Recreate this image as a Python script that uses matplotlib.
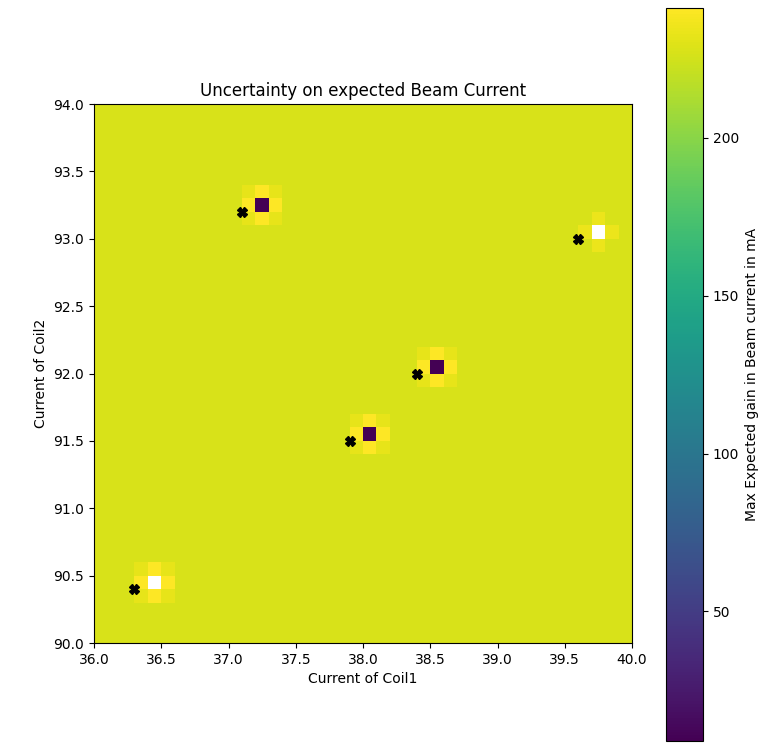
import numpy as np
import matplotlib
matplotlib.use("Agg")
import matplotlib.pyplot as plt

# grid definition (cell edges)
x_min, x_max, n_x = 36.0, 40.0, 40
y_min, y_max, n_y = 90.0, 94.0, 40

background_value = 227.0

# anomaly cells (lower-left corner of cell); NaN = blank (white) cell
spot_x = [37.2, 39.7, 38.0, 38.5, 36.4]
spot_y = [93.2, 93.0, 91.5, 92.0, 90.4]
spot_center = [9.0, np.nan, 9.0, 9.0, np.nan]
spot_edge = [241.0, 234.0, 241.0, 241.0, 241.0]    # up/down/left/right neighbours
spot_corner = [232.0, 227.0, 232.0, 232.0, 232.0]  # diagonal neighbours

# observed points (black X markers)
obs_x = [37.1, 39.6, 37.9, 38.4, 36.3]
obs_y = [93.2, 93.0, 91.5, 92.0, 90.4]

xe = np.linspace(x_min, x_max, n_x + 1)
ye = np.linspace(y_min, y_max, n_y + 1)
dx = (x_max - x_min) / n_x
dy = (y_max - y_min) / n_y

Z = np.full((n_y, n_x), background_value)
for sx, sy, c, e, k in zip(spot_x, spot_y, spot_center, spot_edge, spot_corner):
    i = int(round((sx - x_min) / dx))
    j = int(round((sy - y_min) / dy))
    for di in (-1, 0, 1):
        for dj in (-1, 0, 1):
            if di == 0 and dj == 0:
                v = c
            elif di == 0 or dj == 0:
                v = e
            else:
                v = k
            Z[j + dj, i + di] = v
Z = np.ma.masked_invalid(Z)

fig = plt.figure(figsize=(7.67, 7.51), dpi=100)
ax = fig.add_axes([0.1226, 0.1438, 0.7014, 0.7177])
cax = fig.add_axes([0.8683, 0.0133, 0.0482, 0.976])

mesh = ax.pcolormesh(xe, ye, Z, cmap="viridis", vmin=9, vmax=241)
ax.plot(obs_x, obs_y, "X", color="black", markersize=7, linestyle="none")

ax.set_xlim(x_min, x_max)
ax.set_ylim(y_min, y_max)
ax.set_xticks(np.arange(36.0, 40.01, 0.5))
ax.set_yticks(np.arange(90.0, 94.01, 0.5))
ax.set_xticklabels([f"{v:.1f}" for v in np.arange(36.0, 40.01, 0.5)])
ax.set_yticklabels([f"{v:.1f}" for v in np.arange(90.0, 94.01, 0.5)])
ax.set_xlabel("Current of Coil1")
ax.set_ylabel("Current of Coil2")
ax.set_title("Uncertainty on expected Beam Current")

cb = fig.colorbar(mesh, cax=cax)
cb.set_ticks([50, 100, 150, 200])
cb.set_label("Max Expected gain in Beam current in mA")

fig.savefig("out.png", dpi=100)
